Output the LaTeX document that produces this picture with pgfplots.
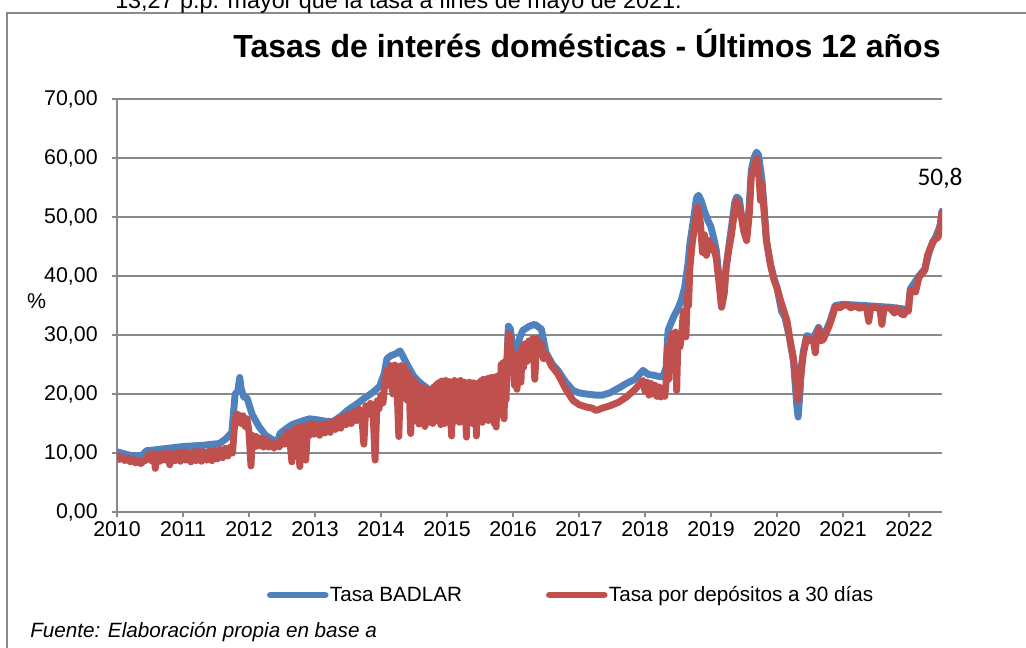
\documentclass[border=0pt]{standalone}
\usepackage{pgfplots}
\pgfplotsset{compat=1.18}
\usepackage{fontspec}
\setmainfont{Liberation Sans}
\newfontfamily\calib{Carlito}
\definecolor{cblue}{HTML}{4F81BD}
\definecolor{cred}{HTML}{C0504D}
\definecolor{cgrid}{HTML}{8A8A8A}
\begin{document}
\begin{tikzpicture}[x=0.75pt,y=0.75pt]
\begin{axis}[
  at={(87.75pt,102pt)}, anchor=origin,
  scale only axis, width=618.75pt, height=309.75pt,
  xmin=2010, xmax=2022.5, ymin=0, ymax=70,
  axis x line*=bottom, axis y line*=left,
  axis line style={cgrid, line width=1.1pt, -},
  xtick={2010,2011,...,2022}, ytick={0,10,...,70},
  tick align=outside, major tick length=4pt,
  tick style={cgrid, line width=1.1pt},
  ymajorgrids, grid style={cgrid, line width=1.1pt},
  /pgf/number format/assume math mode=true,
  ticklabel style={font=\fontsize{16}{19}\selectfont, text=black},
  yticklabel style={xshift=-7pt, /pgf/number format/.cd, fixed, fixed zerofill, precision=2, use comma},
  xticklabel style={/pgf/number format/.cd, fixed, precision=0, 1000 sep={}},
  legend style={at={(0.55,-0.201)}, anchor=center, draw=none, fill=none,
    font=\fontsize{15.5}{18}\selectfont, legend columns=2,
    /tikz/every even column/.append style={column sep=62pt},
    nodes={inner xsep=1pt}},
  legend image code/.code={\draw[#1, line cap=round] (0pt,0pt) -- (41pt,0pt);},
  every axis plot/.append style={line width=5.2pt, line join=round, line cap=round},
]
\addplot[cblue] coordinates {
(2010.00,10.2) (2010.10,9.9) (2010.20,9.6) (2010.30,9.5) (2010.38,9.6) (2010.45,10.4)
(2010.55,10.5) (2010.70,10.7) (2010.85,10.9) (2011.00,11.1) (2011.15,11.2) (2011.30,11.3)
(2011.45,11.5) (2011.55,11.6) (2011.65,12.4) (2011.74,13.5) (2011.79,20.0) (2011.83,20.5)
(2011.86,22.8) (2011.88,21.0) (2011.92,19.5) (2011.97,19.3) (2012.05,16.5) (2012.15,14.5)
(2012.25,13.0) (2012.35,12.3) (2012.42,11.6) (2012.47,13.3) (2012.55,14.0) (2012.65,14.8)
(2012.80,15.4) (2012.92,15.8) (2013.05,15.6) (2013.15,15.4) (2013.27,15.3) (2013.40,16.3)
(2013.50,17.3) (2013.62,18.2) (2013.75,19.3) (2013.88,20.3) (2013.98,21.3) (2014.05,23.5)
(2014.09,26.0) (2014.15,26.5) (2014.22,26.8) (2014.29,27.3) (2014.35,26.0) (2014.42,24.5)
(2014.49,23.1) (2014.58,22.0) (2014.65,21.4) (2014.72,20.8) (2014.85,20.5) (2015.00,20.6)
(2015.20,20.9) (2015.40,21.2) (2015.60,21.5) (2015.80,22.0) (2015.90,23.0) (2015.93,31.5)
(2015.96,31.0) (2016.00,27.5) (2016.05,26.8) (2016.10,29.5) (2016.15,30.8) (2016.25,31.5)
(2016.33,31.8) (2016.43,31.0) (2016.50,27.0) (2016.60,25.0) (2016.68,24.0) (2016.80,22.0)
(2016.91,20.6) (2017.00,20.2) (2017.11,20.0) (2017.26,19.8) (2017.35,19.8) (2017.47,20.2)
(2017.60,21.0) (2017.72,21.8) (2017.85,22.5) (2017.97,24.0) (2018.05,23.3) (2018.12,23.2)
(2018.20,23.0) (2018.27,22.9) (2018.32,24.5) (2018.35,30.8) (2018.43,33.0) (2018.50,34.5)
(2018.55,35.9) (2018.60,38.0) (2018.65,42.0) (2018.68,45.5) (2018.74,50.0) (2018.78,53.2)
(2018.81,53.7) (2018.85,52.8) (2018.90,51.0) (2018.95,49.5) (2019.00,48.3) (2019.05,46.0)
(2019.08,44.4) (2019.12,40.0) (2019.16,34.8) (2019.20,37.5) (2019.23,41.5) (2019.27,45.0)
(2019.31,48.3) (2019.36,52.5) (2019.39,53.4) (2019.43,53.0) (2019.46,50.5) (2019.50,47.5)
(2019.54,46.5) (2019.58,52.0) (2019.61,57.9) (2019.65,60.0) (2019.69,61.0) (2019.72,60.5)
(2019.77,56.5) (2019.80,52.5) (2019.84,46.0) (2019.90,42.0) (2019.95,39.8) (2020.00,38.0)
(2020.07,34.0) (2020.12,33.0) (2020.19,29.5) (2020.25,25.5) (2020.30,18.0) (2020.32,16.1)
(2020.35,20.5) (2020.37,24.8) (2020.40,27.2) (2020.45,29.9) (2020.55,29.5) (2020.63,31.3)
(2020.70,29.6) (2020.80,32.2) (2020.88,35.0) (2021.00,35.2) (2021.31,35.0) (2021.72,34.7)
(2021.99,34.3) (2022.02,37.8) (2022.15,40.0) (2022.24,41.2) (2022.32,44.7) (2022.40,46.5)
(2022.47,48.5) (2022.50,51.0)
};
\addlegendentry{Tasa BADLAR}
\addplot[cred] coordinates {
(2010.00,9.6) (2010.04,8.9) (2010.08,9.3) (2010.12,8.7) (2010.16,9.1) (2010.20,8.5)
(2010.24,8.9) (2010.28,8.3) (2010.32,8.7) (2010.36,8.2) (2010.40,8.6) (2010.44,8.8)
(2010.48,9.8) (2010.52,8.7) (2010.56,9.9) (2010.58,7.4) (2010.61,9.8) (2010.65,8.6)
(2010.69,9.9) (2010.73,8.8) (2010.77,10.0) (2010.80,8.0) (2010.84,9.9) (2010.88,8.7)
(2010.92,10.1) (2010.96,8.6) (2011.00,10.2) (2011.04,8.8) (2011.08,10.1) (2011.12,8.5)
(2011.16,10.2) (2011.20,8.7) (2011.24,10.3) (2011.28,8.6) (2011.32,10.2) (2011.36,8.8)
(2011.40,10.4) (2011.44,8.7) (2011.48,10.5) (2011.52,9.0) (2011.56,10.6) (2011.60,9.2)
(2011.64,10.8) (2011.68,9.5) (2011.72,11.0) (2011.75,10.0) (2011.78,14.5) (2011.81,16.6)
(2011.85,16.4) (2011.88,15.0) (2011.91,16.3) (2011.94,14.5) (2011.97,15.8) (2012.00,13.5)
(2012.03,7.8) (2012.05,13.0) (2012.08,11.0) (2012.11,12.8) (2012.14,11.2) (2012.18,12.5)
(2012.22,11.0) (2012.26,12.3) (2012.30,11.0) (2012.34,11.8) (2012.38,10.8) (2012.42,11.6)
(2012.46,11.0) (2012.50,12.5) (2012.54,11.5) (2012.58,13.5) (2012.62,12.0) (2012.65,8.5)
(2012.68,14.0) (2012.71,12.5) (2012.74,14.3) (2012.77,7.7) (2012.80,14.5) (2012.83,12.0)
(2012.86,8.8) (2012.89,14.8) (2012.92,13.0) (2012.95,15.0) (2012.99,13.2) (2013.03,14.8)
(2013.07,13.0) (2013.11,14.9) (2013.15,13.4) (2013.19,15.0) (2013.23,13.5) (2013.27,15.3)
(2013.31,14.0) (2013.35,15.8) (2013.39,14.2) (2013.43,16.2) (2013.47,14.8) (2013.51,16.6)
(2013.55,15.0) (2013.59,17.0) (2013.63,15.5) (2013.67,17.4) (2013.71,16.0) (2013.74,11.5)
(2013.77,18.0) (2013.80,16.5) (2013.84,18.4) (2013.88,17.0) (2013.91,8.8) (2013.94,18.8)
(2013.97,17.5) (2014.00,19.8) (2014.03,18.5) (2014.06,22.0) (2014.09,24.0) (2014.12,21.5)
(2014.15,24.8) (2014.18,20.0) (2014.21,24.9) (2014.24,22.0) (2014.27,12.8) (2014.30,24.8)
(2014.33,21.0) (2014.36,24.6) (2014.39,19.0) (2014.42,23.5) (2014.45,13.3) (2014.48,22.5)
(2014.500,22.3) (2014.515,15.5) (2014.530,21.8) (2014.545,16.8) (2014.560,21.5) (2014.575,14.9)
(2014.590,21.3) (2014.605,17.0) (2014.620,21.1) (2014.635,15.8) (2014.650,21.0) (2014.665,14.5)
(2014.680,20.9) (2014.695,16.6) (2014.710,20.7) (2014.725,15.2) (2014.740,20.6) (2014.755,16.5)
(2014.770,20.8) (2014.785,15.0) (2014.800,21.2) (2014.815,17.0) (2014.830,21.5) (2014.845,15.5)
(2014.860,21.8) (2014.875,16.8) (2014.890,22.0) (2014.905,14.8) (2014.920,22.2) (2014.935,16.4)
(2014.950,22.0) (2014.965,15.0) (2014.980,22.3) (2014.995,17.0) (2015.010,21.8) (2015.025,15.6)
(2015.040,22.1) (2015.055,16.2) (2015.070,12.9) (2015.085,21.9) (2015.100,16.3) (2015.115,22.3)
(2015.130,15.4) (2015.145,21.7) (2015.160,16.8) (2015.175,22.0) (2015.190,15.2) (2015.205,22.3)
(2015.220,17.0) (2015.235,21.6) (2015.250,15.8) (2015.265,22.0) (2015.280,16.4) (2015.295,12.7)
(2015.310,21.8) (2015.325,15.9) (2015.340,22.0) (2015.355,16.5) (2015.370,21.6) (2015.385,15.0)
(2015.400,21.9) (2015.415,16.0) (2015.430,21.5) (2015.445,12.9) (2015.460,21.8) (2015.475,15.6)
(2015.490,22.0) (2015.505,16.0) (2015.520,22.3) (2015.535,15.2) (2015.550,22.5) (2015.565,17.2)
(2015.580,22.4) (2015.595,15.8) (2015.610,22.6) (2015.625,15.5) (2015.640,22.7) (2015.655,16.8)
(2015.670,22.8) (2015.685,16.2) (2015.700,22.8) (2015.715,15.0) (2015.730,22.9) (2015.745,14.4)
(2015.760,23.0) (2015.775,17.0) (2015.790,23.2) (2015.805,16.5) (2015.820,25.0) (2015.835,18.0)
(2015.850,25.3) (2015.865,15.8) (2015.880,25.5) (2015.895,19.0) (2015.910,26.0) (2015.930,30.2)
(2015.96,29.5) (2015.98,24.0) (2016.00,27.0) (2016.02,21.5) (2016.04,26.3) (2016.06,20.8)
(2016.08,25.5) (2016.10,27.0) (2016.12,22.0) (2016.14,28.0) (2016.16,24.5) (2016.18,28.5)
(2016.21,25.5) (2016.24,29.0) (2016.27,26.0) (2016.30,29.4) (2016.33,22.5) (2016.36,29.4)
(2016.40,27.0) (2016.43,28.5) (2016.46,26.0) (2016.50,26.8) (2016.58,24.8) (2016.68,23.4)
(2016.80,20.8) (2016.91,18.9) (2017.00,18.2) (2017.11,17.8) (2017.20,17.6) (2017.26,17.2)
(2017.35,17.6) (2017.47,18.0) (2017.60,18.6) (2017.72,19.5) (2017.85,20.8) (2017.97,22.3)
(2018.00,20.5) (2018.03,22.0) (2018.06,19.8) (2018.09,21.8) (2018.12,20.0) (2018.15,21.5)
(2018.18,19.6) (2018.21,21.2) (2018.24,19.5) (2018.27,21.0) (2018.30,19.6) (2018.32,22.0)
(2018.34,28.0) (2018.36,22.5) (2018.38,27.0) (2018.41,30.2) (2018.44,26.5) (2018.46,30.5)
(2018.48,20.6) (2018.50,30.0) (2018.53,28.0) (2018.56,30.5) (2018.58,34.0) (2018.60,30.0)
(2018.62,29.7) (2018.64,37.0) (2018.66,35.0) (2018.68,41.5) (2018.72,46.0)
(2018.76,49.0) (2018.80,51.7) (2018.84,49.0) (2018.87,44.0) (2018.90,47.0) (2018.93,43.5)
(2018.97,46.0) (2019.00,44.4) (2019.04,45.0) (2019.08,43.0) (2019.12,39.0) (2019.16,34.7)
(2019.20,37.0) (2019.23,41.5) (2019.27,44.5) (2019.31,47.0) (2019.35,50.5) (2019.39,52.8)
(2019.43,51.5) (2019.46,50.0) (2019.50,47.5) (2019.54,46.0) (2019.58,50.5) (2019.61,56.8)
(2019.65,58.5) (2019.69,59.9) (2019.72,58.0) (2019.75,52.8) (2019.77,55.6) (2019.80,51.5)
(2019.84,46.0) (2019.90,42.0) (2019.95,39.5) (2020.00,38.0) (2020.05,36.0) (2020.10,34.2)
(2020.15,32.5) (2020.20,29.0) (2020.25,26.0) (2020.29,22.0) (2020.32,19.0) (2020.35,22.0)
(2020.40,26.9) (2020.45,29.5) (2020.50,29.0) (2020.55,29.2) (2020.58,27.0) (2020.60,29.5)
(2020.63,31.0) (2020.66,29.0) (2020.70,29.2) (2020.75,30.5) (2020.80,31.8) (2020.85,33.5)
(2020.88,34.8) (2020.95,34.6) (2021.00,35.0) (2021.06,35.1) (2021.12,34.6) (2021.18,35.0)
(2021.25,34.5) (2021.31,34.8) (2021.36,34.4) (2021.39,32.3) (2021.42,34.6) (2021.50,34.7)
(2021.56,34.3) (2021.59,31.8) (2021.62,34.5) (2021.68,34.6) (2021.72,34.5) (2021.78,33.7)
(2021.82,34.6) (2021.88,33.6) (2021.92,33.4) (2021.96,34.2) (2021.99,34.0) (2022.02,37.6)
(2022.06,37.4) (2022.10,37.3) (2022.15,39.8) (2022.20,40.4) (2022.24,41.0) (2022.28,43.5)
(2022.32,44.5) (2022.36,45.8) (2022.40,46.3) (2022.44,46.5) (2022.47,48.3) (2022.49,49.8)
(2022.50,50.8)
};
\addlegendentry{Tasa por depósitos a 30 días}
\end{axis}
% frame
\draw[cgrid, line width=1.5pt] (7.3,-5) -- (7.3,635.3) -- (1035,635.3);
% cut-off text at top
\node[anchor=base west, inner sep=0pt, font=\fontsize{17.5}{20}\selectfont] at (115,639) {13,27 p.p. mayor que la tasa a fines de mayo de 2021.};
% title
\node[anchor=base, inner sep=0pt, font=\bfseries\fontsize{24}{28}\selectfont] at (587,590) {Tasas de interés domésticas - Últimos 12 años};
% y label
\node[font=\fontsize{16}{19}\selectfont] at (36.5,347) {\%};
% value label
\node[font=\calib\fontsize{19}{22}\selectfont] at (940,470) {50,8};
% source
\node[anchor=base west, inner sep=0pt, font=\itshape\fontsize{15.5}{18}\selectfont] at (30,10) {Fuente: Elaboración propia en base a};
\pgfresetboundingbox
\useasboundingbox (0,0) rectangle (1026,648);
\end{tikzpicture}
\end{document}
